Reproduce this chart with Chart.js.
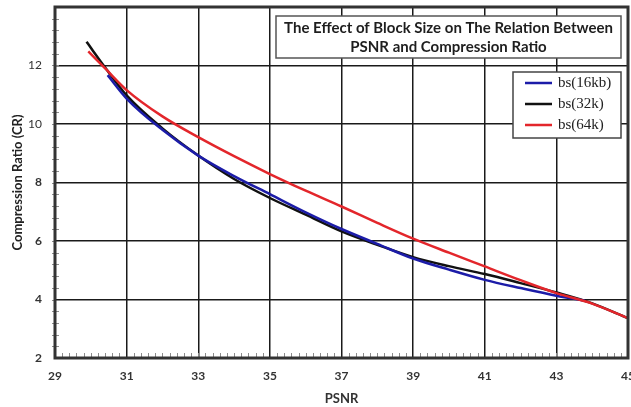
<!DOCTYPE html>
<html>
<head>
<meta charset="utf-8">
<script src="https://cdn.jsdelivr.net/npm/chart.js@4/dist/chart.umd.min.js"></script>
<style>
  html, body { margin: 0; padding: 0; background: #fff; }
</style>
</head>
<body>
<canvas id="crChart" width="631" height="407"></canvas>
<script>
// axis ticks
const xTicks = [29, 31, 33, 35, 37, 39, 41, 43, 45];
const yTicks = [2, 4, 6, 8, 10, 12];

const seriesNames = ['bs(16kb)', 'bs(32k)', 'bs(64k)'];

// block size 16kb
const psnr16 = [30.47, 31.0, 32.0, 33.0, 34.0, 35.0, 36.0, 37.0, 38.0, 39.0, 40.0, 41.0, 42.0, 43.0, 43.8];
const cr16   = [11.67, 10.87, 9.80, 8.92, 8.22, 7.60, 6.98, 6.41, 5.90, 5.40, 5.02, 4.67, 4.39, 4.13, 3.96];

// block size 32k
const psnr32 = [29.88, 30.4, 31.0, 32.0, 33.0, 34.0, 35.0, 36.0, 37.0, 38.0, 39.0, 40.0, 41.0, 42.0, 43.0, 44.0, 45.0];
const cr32   = [12.81, 11.93, 10.98, 9.85, 8.92, 8.12, 7.47, 6.90, 6.33, 5.87, 5.45, 5.14, 4.87, 4.56, 4.24, 3.87, 3.36];

// block size 64k
const psnr64 = [29.93, 30.4, 31.0, 32.0, 33.0, 34.0, 35.0, 36.0, 37.0, 38.0, 39.0, 40.0, 41.0, 42.0, 43.0, 44.0, 45.0];
const cr64   = [12.48, 11.9, 11.16, 10.26, 9.55, 8.90, 8.29, 7.72, 7.18, 6.62, 6.08, 5.60, 5.13, 4.66, 4.22, 3.86, 3.36];

const lineColors = ['#1c1ca8', '#111111', '#e3262b'];

const toPoints = (xs, ys) => xs.map((x, i) => ({ x: x, y: ys[i] }));

const tickFont = { family: 'Lato', size: 12, weight: 'bold' };

// minor ticks, plot frame, title box and legend box
const decorPlugin = {
  id: 'decor',
  beforeDatasetsDraw(chart) {
    const { ctx, chartArea: a, scales: { x, y } } = chart;
    ctx.save();
    ctx.strokeStyle = '#8c8c8c';
    ctx.lineWidth = 1;
    ctx.beginPath();
    for (let i = 1; i < 80; i++) {
      const px = Math.round(x.getPixelForValue(29 + i * 0.2)) + 0.5;
      ctx.moveTo(px, a.bottom);
      ctx.lineTo(px, a.bottom - 5);
    }
    for (let i = 1; i < 30; i++) {
      const py = Math.round(y.getPixelForValue(2 + i * 0.4)) + 0.5;
      ctx.moveTo(a.left - 3, py);
      ctx.lineTo(a.left + 4, py);
    }
    ctx.stroke();
    ctx.restore();
  },
  afterDatasetsDraw(chart) {
    const { ctx, chartArea: a } = chart;
    ctx.save();
    ctx.strokeStyle = '#333';
    ctx.lineWidth = 3;
    ctx.strokeRect(a.left, a.top, a.right - a.left, a.bottom - a.top);

    // title box
    const tb = { x: a.right - 352, y: a.top + 9, w: 345, h: 42 };
    ctx.fillStyle = '#fff';
    ctx.fillRect(tb.x, tb.y, tb.w, tb.h);
    ctx.lineWidth = 1.5;
    ctx.strokeStyle = '#555';
    ctx.strokeRect(tb.x, tb.y, tb.w, tb.h);
    ctx.fillStyle = '#1e1e1e';
    ctx.font = 'bold 15px Lato';
    ctx.textAlign = 'center';
    ctx.textBaseline = 'middle';
    ctx.fillText('The Effect of Block Size on The Relation Between', tb.x + tb.w / 2, tb.y + 12);
    ctx.fillText('PSNR and Compression Ratio', tb.x + tb.w / 2, tb.y + 31);

    // legend box
    const lb = { x: a.right - 115, y: a.top + 65, w: 108, h: 66 };
    ctx.fillStyle = '#fff';
    ctx.fillRect(lb.x, lb.y, lb.w, lb.h);
    ctx.strokeStyle = '#444';
    ctx.strokeRect(lb.x, lb.y, lb.w, lb.h);
    ctx.font = '15px "Liberation Serif"';
    ctx.textAlign = 'left';
    const rows = [11, 32, 53];
    chart.data.datasets.forEach((ds, i) => {
      const ry = lb.y + rows[i];
      ctx.strokeStyle = ds.borderColor;
      ctx.lineWidth = 2.5;
      ctx.beginPath();
      ctx.moveTo(lb.x + 12, ry);
      ctx.lineTo(lb.x + 39, ry);
      ctx.stroke();
      ctx.fillStyle = '#222';
      ctx.fillText(ds.label, lb.x + 45, ry);
    });
    ctx.restore();
  }
};

new Chart(document.getElementById('crChart'), {
  type: 'line',
  data: {
    datasets: [
      { label: seriesNames[0], data: toPoints(psnr16, cr16), borderColor: lineColors[0], order: 1 },
      { label: seriesNames[1], data: toPoints(psnr32, cr32), borderColor: lineColors[1], order: 2 },
      { label: seriesNames[2], data: toPoints(psnr64, cr64), borderColor: lineColors[2], order: 0 }
    ]
  },
  options: {
    responsive: false,
    animation: false,
    layout: { padding: { top: 7, right: 3, left: 0, bottom: 0 } },
    elements: {
      line: { borderWidth: 2.5, tension: 0.4, cubicInterpolationMode: 'monotone', fill: false },
      point: { radius: 0 }
    },
    plugins: { legend: { display: false }, tooltip: { enabled: false } },
    scales: {
      x: {
        type: 'linear',
        min: xTicks[0],
        max: xTicks[xTicks.length - 1],
        afterBuildTicks: s => { s.ticks = xTicks.map(v => ({ value: v })); },
        afterFit: s => { s.height = 49; s.paddingLeft = 0; s.paddingRight = 0; },
        grid: { color: '#1a1a1a', lineWidth: 1.5, drawTicks: false },
        border: { display: false },
        ticks: { padding: 11, color: '#333', font: tickFont, maxRotation: 0 },
        title: {
          display: true, text: 'PSNR', color: '#333',
          font: { family: 'Lato', size: 13, weight: 'bold' },
          padding: { top: 2, bottom: 0 }
        }
      },
      y: {
        type: 'linear',
        min: 2,
        max: 14,
        afterBuildTicks: s => { s.ticks = yTicks.map(v => ({ value: v })); },
        afterFit: s => { s.width = 55; s.paddingTop = 0; s.paddingBottom = 0; },
        grid: { color: '#1a1a1a', lineWidth: 1.5, drawTicks: false },
        border: { display: false },
        ticks: {
          padding: 13, color: '#333',
          font: c => ({ family: 'Lato', size: 12, weight: c.tick && c.tick.value >= 10 ? 'normal' : 'bold' })
        },
        title: {
          display: true, text: 'Compression Ratio (CR)', color: '#222',
          font: { family: 'Lato', size: 13, weight: 'bold' },
          padding: { top: 10, bottom: 0 }
        }
      }
    }
  },
  plugins: [decorPlugin]
});
</script>
</body>
</html>
